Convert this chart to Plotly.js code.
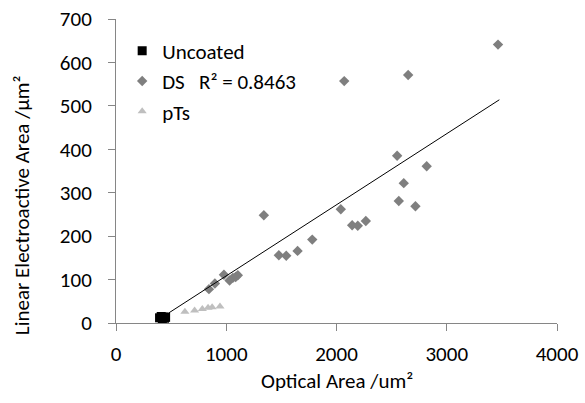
<!DOCTYPE html>
<html>
<head>
<meta charset="utf-8">
<script src="https://cdn.plot.ly/plotly-3.0.1.min.js"></script>
<style>html,body{margin:0;padding:0;background:#fff;}#chart{width:585px;height:403px;}</style>
</head>
<body>
<div id="chart"></div>
<script>
// Uncoated electrodes
const uncoatedX = [395, 410, 420, 430, 440, 450];
const uncoatedY = [12, 15, 10, 14, 11, 13];

// DS-coated electrodes
const dsX = [843, 897, 979, 1030, 1060, 1085, 1105, 1341, 1477, 1544, 1647, 1780, 2039, 2070, 2142, 2193, 2266, 2550, 2565, 2610, 2650, 2716, 2818, 3465];
const dsY = [78, 91, 111, 98, 104, 106, 110, 248, 156, 155, 166, 192, 262, 557, 225, 224, 235, 385, 281, 322, 571, 269, 361, 641];

// pTs-coated electrodes
const ptsX = [625, 713, 783, 835, 872, 943];
const ptsY = [26, 29, 32, 35, 36, 38];

// linear trendline endpoints (DS)
const trendX = [380, 3477];
const trendY = [7, 514];

const xTicks = [0, 1000, 2000, 3000, 4000];
const yTicks = [0, 100, 200, 300, 400, 500, 600, 700];

const FONT = "Carlito, Calibri, Lato, 'Open Sans', sans-serif";
const FS = 21;
const axisColor = '#868686';

const traces = [
  {x: uncoatedX, y: uncoatedY, mode: 'markers', type: 'scatter', name: 'Uncoated', legendgroup: 'a',
   marker: {symbol: 'square', size: 9, color: '#000000'}},
  {x: dsX, y: dsY, mode: 'markers', type: 'scatter', name: 'DS\u00A0\u00A0\u00A0R\u00B2 = 0.8463', legendgroup: 'b',
   marker: {symbol: 'diamond', size: 8, color: '#7f7f7f'}},
  {x: ptsX, y: ptsY, mode: 'markers', type: 'scatter', name: 'pTs', legendgroup: 'c',
   marker: {symbol: 'triangle-up', size: 8, color: '#bfbfbf'}},
  {x: trendX, y: trendY, mode: 'lines', type: 'scatter', showlegend: false,
   line: {color: '#000000', width: 1}}
];

const layout = {
  width: 585, height: 403,
  margin: {l: 116, r: 28, t: 19, b: 80},
  paper_bgcolor: '#ffffff', plot_bgcolor: '#ffffff',
  font: {family: FONT, size: FS, color: '#000000'},
  showlegend: true,
  legend: {x: 0.014, y: 0.962, xanchor: 'left', yanchor: 'top', bgcolor: 'rgba(0,0,0,0)',
           font: {family: FONT, size: FS, color: '#000000'}, tracegroupgap: 0},
  xaxis: {range: [0, 4000], tickvals: xTicks, ticktext: xTicks.map(String), showgrid: false, zeroline: false,
          showline: true, linecolor: axisColor, linewidth: 1, ticks: 'outside', ticklen: 7, tickcolor: axisColor,
          ticklabelstandoff: 5, tickfont: {family: FONT, size: FS, color: '#000000'}, fixedrange: true},
  yaxis: {range: [0, 700], tickvals: yTicks, ticktext: yTicks.map(String), showgrid: false, zeroline: false,
          showline: true, linecolor: axisColor, linewidth: 1, ticks: 'outside', ticklen: 7, tickcolor: axisColor,
          ticklabelstandoff: 12, tickfont: {family: FONT, size: FS, color: '#000000'}, fixedrange: true},
  annotations: [
    {text: 'Optical Area /um\u00B2', xref: 'paper', yref: 'paper', x: (336.7-116)/441, y: -(381-322.7)/303.7,
     xanchor: 'center', yanchor: 'middle', showarrow: false, font: {family: FONT, size: FS, color: '#000000'}},
    {text: 'Linear Electroactive Area /\u00B5m\u00B2', xref: 'paper', yref: 'paper', x: (22-116)/441, y: (322.7-205)/303.7,
     xanchor: 'center', yanchor: 'middle', textangle: -90, showarrow: false, font: {family: FONT, size: FS, color: '#000000'}}
  ]
};

Plotly.newPlot('chart', traces, layout, {displayModeBar: false, staticPlot: true});
</script>
</body>
</html>
